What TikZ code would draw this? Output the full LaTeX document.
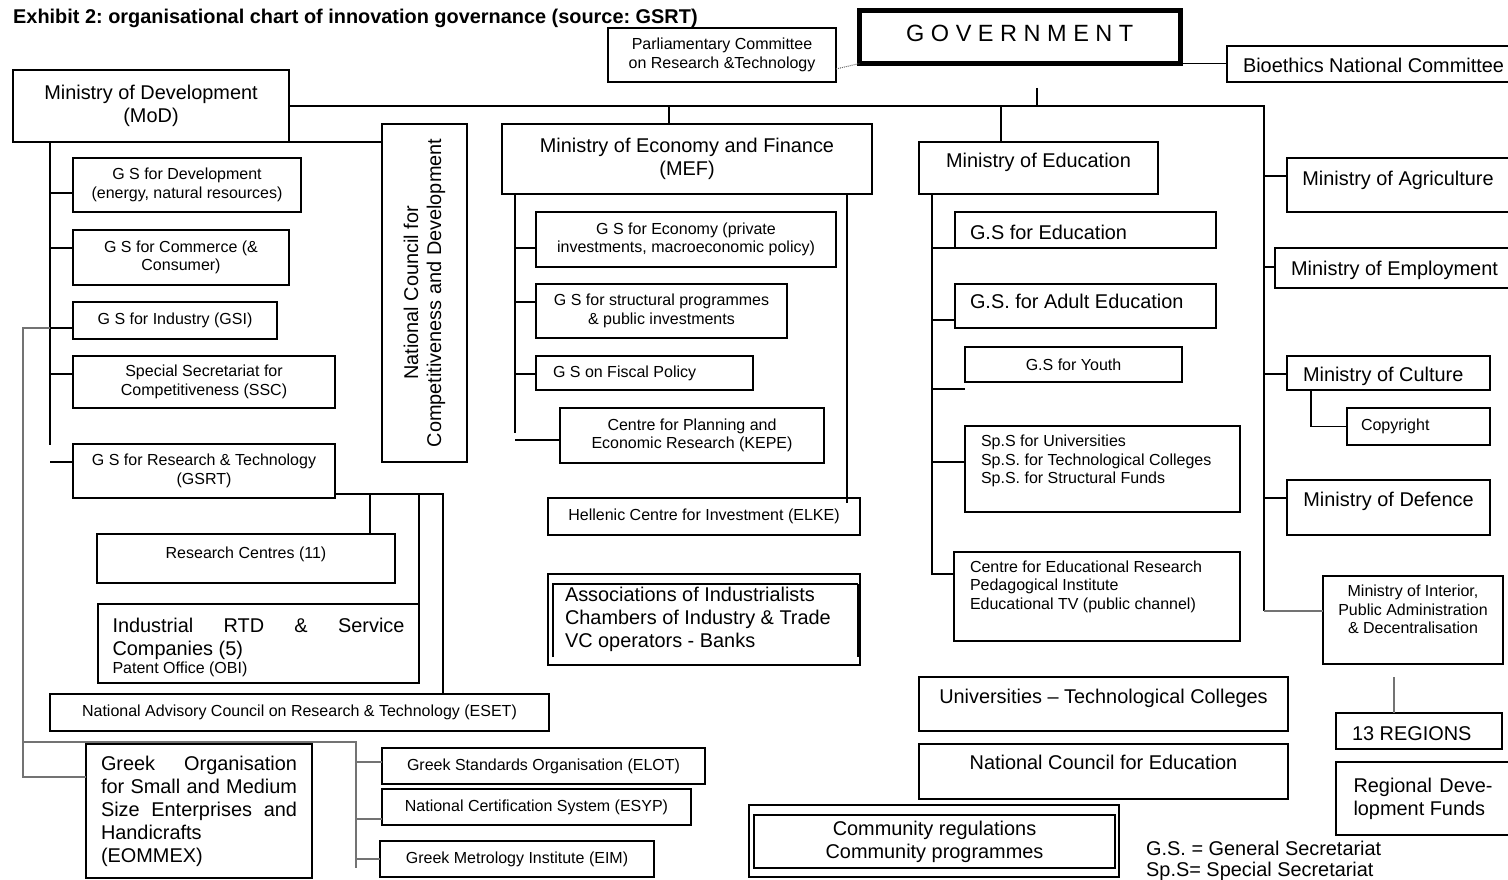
\documentclass[tikz,border=0pt]{standalone}
\usepackage{fontspec}
\setmainfont{Liberation Sans}
\frenchspacing
\newcommand{\orgbig}{\fontsize{19.9}{23}\selectfont}
\newcommand{\orgsmall}{\fontsize{16}{18.5}\selectfont}
\tikzset{
  font=\orgbig,
  box/.style = {
    draw,
    rectangle,
    line width=1.6pt,
    inner sep=0pt,
    outer sep=0pt,
    align=center
  },
  smalltxt/.style = {
    font=\orgsmall
  },
  link/.style = {
    line width=1.6pt
  },
  faint/.style = {
    line width=1.6pt,
    draw=black!55 % the grey lines of the scan
  }
}

\begin{document}
\begin{tikzpicture}[x=1pt,y=-1pt]
  \useasboundingbox (0,0) rectangle (1508,880);

  \node[anchor=base west, inner sep=0pt, font=\fontsize{19.9}{22}\selectfont\bfseries] (title) at (13,23.5) {Exhibit 2: organisational chart of innovation governance (source: GSRT)};

  \node[box, smalltxt, minimum width=228pt, minimum height=54pt] (parl) at (722,55) {Parliamentary Committee\\on Research \&Technology};
  \node[box, line width=5pt, minimum width=320.5pt, minimum height=53pt, font=\fontsize{23.5}{26}\selectfont, text depth=7pt] (gov) at (1019.75,37) {G O V E R N M E N T};
  \node[box, minimum width=293pt, minimum height=36pt, text height=18pt, text depth=0pt] (bio) at (1373.5,64) {Bioethics National Committee};

  % development
  \node[box, minimum width=276pt, minimum height=72pt] (mod) at (151,106) {Ministry of Development\\(MoD)};
  \node[box, rotate=90, minimum width=338pt, minimum height=85pt] (nc) at (424.5,293) {National Council for\\Competitiveness and Development};
  \node[box, smalltxt, minimum width=228pt, minimum height=54pt] (gsdev) at (187,185) {G S for Development\\(energy, natural resources)};
  \node[box, smalltxt, minimum width=216pt, minimum height=55pt] (gscom) at (181,257.5) {G S for Commerce (\&\\Consumer)};
  \node[box, smalltxt, minimum width=204pt, minimum height=37pt] (gsi) at (175,320.5) {G S for Industry (GSI)};
  \node[box, smalltxt, minimum width=262pt, minimum height=52pt] (ssc) at (204,382) {Special Secretariat for\\Competitiveness (SSC)};
  \node[box, smalltxt, minimum width=262pt, minimum height=54pt] (gsrt) at (204,471) {G S for Research \& Technology\\(GSRT)};
  \node[box, smalltxt, minimum width=298pt, minimum height=49pt, text depth=12.5pt] (rc) at (246,558.5) {Research Centres (11)};
  \node[box, minimum width=321pt, minimum height=79pt, text width=292pt, align=flush left] (ind) at (258.5,643.5) {\mbox{}\\Industrial\hfill RTD\hfill \&\hfill Service\\Companies (5)\\[-5pt]{\orgsmall Patent Office (OBI)}};
  \node[box, smalltxt, minimum width=499pt, minimum height=37pt] (eset) at (299.5,712.5) {National Advisory Council on Research \& Technology (ESET)};
  \node[box, minimum width=226pt, minimum height=134pt, text width=196pt, align=flush left] (eommex) at (199,811) {Greek\hfill Organisation\\for\hfill Small\hfill and\hfill Medium\\Size\hfill Enterprises\hfill and\\Handicrafts\\(EOMMEX)};
  \node[box, smalltxt, minimum width=323pt, minimum height=36pt] (elot) at (543.5,766) {Greek Standards Organisation (ELOT)};
  \node[box, smalltxt, minimum width=309pt, minimum height=36pt] (esyp) at (536.5,807) {National Certification System (ESYP)};
  \node[box, smalltxt, minimum width=274pt, minimum height=36pt] (eim) at (517,859) {Greek Metrology Institute (EIM)};

  % economy and finance
  \node[box, minimum width=370pt, minimum height=70pt] (mef) at (687,159) {Ministry of Economy and Finance\\(MEF)};
  \node[box, smalltxt, minimum width=300pt, minimum height=55pt] (gseco) at (686,239.5) {G S for Economy (private\\investments, macroeconomic policy)};
  \node[box, smalltxt, minimum width=251pt, minimum height=54pt] (gsstr) at (661.5,311) {G S for structural programmes\\\& public investments};
  \node[box, smalltxt, minimum width=217pt, minimum height=34pt, text width=183pt, align=flush left] (gsfis) at (644.5,373) {G S on Fiscal Policy};
  \node[box, smalltxt, minimum width=264pt, minimum height=55pt] (kepe) at (692,435.5) {Centre for Planning and\\Economic Research (KEPE)};
  \node[box, smalltxt, minimum width=312pt, minimum height=37pt] (elke) at (704,516.5) {Hellenic Centre for Investment (ELKE)};
  \node[box, minimum width=312pt, minimum height=91pt, text width=278pt, align=flush left] (assoc) at (704,619.5) {Associations of Industrialists\\Chambers of Industry \& Trade\\VC operators - Banks};

  % education
  \node[box, minimum width=239pt, minimum height=52pt, text depth=16pt] (moe) at (1038.5,168) {Ministry of Education};
  \node[box, minimum width=261pt, minimum height=36pt, text width=231pt, align=flush left, text height=18pt, text depth=0pt] (gsedu) at (1085.5,230) {G.S for Education};
  \node[box, minimum width=261pt, minimum height=44pt, text width=231pt, align=flush left, text depth=10pt] (gsadult) at (1085.5,306) {G.S. for Adult Education};
  \node[box, smalltxt, minimum width=217pt, minimum height=35pt] (youth) at (1073.5,364.5) {G.S for Youth};
  \node[box, smalltxt, minimum width=275pt, minimum height=86pt, text width=243pt, align=flush left] (sps) at (1102.5,469) {Sp.S for Universities\\Sp.S. for Technological Colleges\\Sp.S. for Structural Funds\\[1pt]\mbox{}};
  \node[box, smalltxt, minimum width=286pt, minimum height=89pt, text width=254pt, align=flush left] (cer) at (1097,596.5) {Centre for Educational Research\\Pedagogical Institute\\Educational TV (public channel)\\[5pt]\mbox{}};
  \node[box, minimum width=369pt, minimum height=54pt, text depth=16pt] (univ) at (1103.5,704) {Universities – Technological Colleges};
  \node[box, minimum width=369pt, minimum height=55pt, text depth=19pt] (nce) at (1103.5,771.5) {National Council for Education};
  \node[box, minimum width=361pt, minimum height=53pt] (comm) at (934.5,841.5) {Community regulations\\Community programmes};
  \node[anchor=north west, align=left, inner sep=0pt] (legend) at (1146,841) {G.S. = General Secretariat\\[-2pt]Sp.S= Special Secretariat};

  % other ministries
  \node[box, minimum width=222pt, minimum height=54pt, text depth=14pt] (agri) at (1398,185) {Ministry of Agriculture};
  \node[box, minimum width=239pt, minimum height=40pt, text height=16pt, text depth=2pt] (emp) at (1394.5,268) {Ministry of Employment};
  \node[box, minimum width=203pt, minimum height=34pt, text width=171pt, align=flush left, text height=16pt, text depth=0pt] (cult) at (1388.5,373) {Ministry of Culture};
  \node[box, smalltxt, minimum width=143pt, minimum height=37pt, text width=115pt, align=flush left] (copyr) at (1418.5,426.5) {Copyright};
  \node[box, minimum width=203pt, minimum height=55pt, text depth=17pt] (def) at (1388.5,507.5) {Ministry of Defence};
  \node[box, smalltxt, minimum width=180pt, minimum height=88pt] (int) at (1413,620) {Ministry of Interior,\\Public Administration\\\& Decentralisation\\[3pt]\mbox{}};
  \node[box, minimum width=166pt, minimum height=36pt, text width=134pt, align=flush left, text height=18pt, text depth=0pt] (reg13) at (1419,731) {13 REGIONS};
  \node[box, minimum width=174pt, minimum height=73pt, text width=139pt, align=flush left] (regdev) at (1423,798.5) {Regional\hfill Deve-\\lopment Funds};

  % government lines
  \coordinate (rbus) at (1264,611);
  \coordinate (govstem) at (1037,88);
  \coordinate (mefstem) at (669,106);
  \coordinate (moestem) at (1001,106);
  \draw[link] (mod.east) -- (mod.east -| rbus) -- (rbus);
  \draw[faint] (rbus) -- (rbus -| int.west);
  \draw[link] (govstem) -- (govstem |- mod.east);
  \draw[link] (mefstem) -- (mefstem |- mef.north);
  \draw[link] (moestem) -- (moestem |- moe.north);
  \draw[link] (gov.south east) -- (gov.south east -| bio.west);
  \draw[densely dotted, black!60, line width=1pt] ([yshift=-14pt]parl.east) -- (gov.south west);
  \draw[link] (mod.south east) -- (mod.south east -| nc.north);

  % development lines
  \coordinate (modbus) at (50,445);
  \draw[link] (mod.south -| modbus) -- (modbus);
  \draw[link] (modbus |- 0,193) -- (gsdev.west |- 0,193);
  \draw[link] (modbus |- 0,248) -- (gscom.west |- 0,248);
  \draw[link] (modbus |- 0,328) -- (gsi.west |- 0,328);
  \draw[link] (modbus |- 0,374) -- (ssc.west |- 0,374);
  \draw[link] (modbus |- 0,462) -- (gsrt.west |- 0,462);
  \coordinate (ltrunk) at (23,777);
  \draw[faint] (modbus |- 0,328) -- (ltrunk |- 0,328) -- (ltrunk) -- (ltrunk -| eommex.west);
  \coordinate (sbus) at (356,868);
  \draw[faint] (ltrunk |- 0,742) -- (sbus |- 0,742) -- (sbus);
  \draw[faint] (sbus |- 0,762) -- (elot.west |- 0,762);
  \draw[faint] (sbus |- 0,819) -- (esyp.west |- 0,819);
  \draw[faint] (sbus |- 0,859) -- (eim.west |- 0,859);
  \coordinate (gbus) at (443,494);
  \draw[link] (gsrt.east |- gbus) -- (gbus) -- (gbus |- eset.north);
  \draw[link] (gbus -| 370,0) -- (rc.north -| 370,0);
  \draw[link] (gbus -| 419,0) -- (ind.north -| 419,0);

  % economy lines
  \coordinate (mefl) at (515,433);
  \coordinate (mefr) at (847,503);
  \draw[link] (mef.south -| mefl) -- (mefl);
  \draw[link] (mef.south -| mefr) -- (mefr);
  \draw[link] (mefl |- 0,248) -- (gseco.west |- 0,248);
  \draw[link] (mefl |- 0,302) -- (gsstr.west |- 0,302);
  \draw[link] (mefl |- 0,374) -- (gsfis.west |- 0,374);
  \draw[link] (mefl |- 0,440) -- (kepe.west |- 0,440);
  \draw[link] (553,657) -- (553,584) -- (858,584);
  \draw[line width=2.6pt] (858,584) -- (858,657);
  \draw[link] (749,805) rectangle (1119,877);

  % education lines
  \coordinate (moebus) at (932,574);
  \draw[link] (moe.south -| moebus) -- (moebus) -- (moebus -| cer.west);
  \draw[link] (moebus |- 0,248) -- (gsedu.west |- 0,248);
  \draw[link] (moebus |- 0,320) -- (gsadult.west |- 0,320);
  \draw[link] (moebus |- 0,389) -- (youth.west |- 0,389);
  \draw[link] (moebus |- 0,462) -- (sps.west |- 0,462);

  % right column lines
  \draw[link] (rbus |- 0,176) -- (agri.west |- 0,176);
  \draw[link] (rbus |- 0,267) -- (emp.west |- 0,267);
  \draw[link] (rbus |- 0,374) -- (cult.west |- 0,374);
  \draw[link] (rbus |- 0,498) -- (def.west |- 0,498);
  \draw[link] (cult.south -| 1311,0) |- (copyr.west);
  \coordinate (regstem) at (1394,677);
  \draw[faint] (regstem) -- (regstem |- reg13.north);
\end{tikzpicture}
\end{document}
